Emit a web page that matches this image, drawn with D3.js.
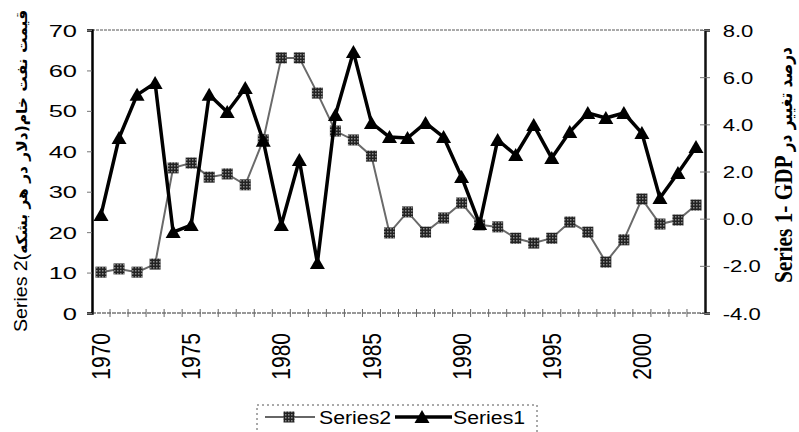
<!DOCTYPE html>
<html>
<head>
<meta charset="utf-8">
<script src="https://cdn.jsdelivr.net/npm/d3@7"></script>
<style>
  body { margin: 0; background: #fff; }
  svg { display: block; }
</style>
</head>
<body>
<svg width="799" height="432"></svg>
<script>
const years = [1970, 1971, 1972, 1973, 1974, 1975, 1976, 1977, 1978, 1979,
  1980, 1981, 1982, 1983, 1984, 1985, 1986, 1987, 1988, 1989,
  1990, 1991, 1992, 1993, 1994, 1995, 1996, 1997, 1998, 1999,
  2000, 2001, 2002, 2003];

// Series2: oil price (left axis)
const series2 = [10.1, 10.9, 10.1, 12.1, 35.9, 37.1, 33.6, 34.4, 31.7, 42.8,
  63.1, 63.1, 54.4, 45.0, 42.8, 38.8, 19.8, 25.0, 20.0, 23.5,
  27.2, 21.8, 21.3, 18.5, 17.3, 18.5, 22.5, 20.0, 12.6, 18.1,
  28.2, 22.0, 23.0, 26.7];

// Series1: GDP change in % (right axis)
const series1 = [0.16, 3.42, 5.25, 5.75, -0.57, -0.27, 5.25, 4.52, 5.54, 3.3,
  -0.27, 2.49, -1.88, 4.4, 7.07, 4.06, 3.46, 3.42, 4.06, 3.46,
  1.77, -0.23, 3.34, 2.7, 3.97, 2.57, 3.68, 4.48, 4.27, 4.48,
  3.63, 0.88, 1.94, 3.04];

const leftTicks = [0, 10, 20, 30, 40, 50, 60, 70];
const rightTicks = [-4, -2, 0, 2, 4, 6, 8];
const xLabels = [1970, 1975, 1980, 1985, 1990, 1995, 2000];

const leftTitleLatin = 'Series 2(';
const leftTitleFa = 'قیمت نفت خام(دلار در هر بشکه';
const rightTitleLatin = 'Series 1- GDP ';
const rightTitleFa = 'درصد تغییر در';

const svg = d3.select('svg');
const sans = '"Liberation Sans", Arial, sans-serif';

const plot = { left: 92, right: 705, top: 30, bottom: 313 };

const xScale = d3.scalePoint()
  .domain(years)
  .range([plot.left, plot.right])
  .padding(0.5);

const yLeft = d3.scaleLinear().domain([0, 70]).range([plot.bottom, plot.top]);
const yRight = d3.scaleLinear().domain([-4, 8]).range([plot.bottom, plot.top]);

// checkered fill for the grey squares
const defs = svg.append('defs');
const pat = defs.append('pattern')
  .attr('id', 'dots')
  .attr('width', 3).attr('height', 3)
  .attr('patternUnits', 'userSpaceOnUse');
pat.append('rect').attr('width', 3).attr('height', 3).attr('fill', '#222');
pat.append('rect').attr('width', 1.5).attr('height', 1.5).attr('fill', '#8a8a8a');

// top border of plot area
svg.append('line')
  .attr('x1', plot.left).attr('x2', plot.right)
  .attr('y1', plot.top).attr('y2', plot.top)
  .attr('stroke', '#555').attr('stroke-width', 1)
  .attr('stroke-dasharray', '3,1');

// left axis
const leftAxis = d3.axisLeft(yLeft).tickValues(leftTicks).tickSize(5).tickFormat(d => d);
const leftG = svg.append('g')
  .attr('transform', `translate(${plot.left},0)`)
  .call(leftAxis);
leftG.select('.domain').attr('stroke', '#000').attr('stroke-width', 2.5);
leftG.selectAll('.tick line').attr('stroke', '#777');
leftG.selectAll('.tick text')
  .attr('x', -10)
  .attr('dy', '0.36em')
  .attr('transform', 'scale(1.5,1)')
  .attr('font-family', sans)
  .attr('font-size', 17)
  .attr('fill', '#000');

// right axis
const rightAxis = d3.axisRight(yRight).tickValues(rightTicks).tickSize(5).tickFormat(d => d.toFixed(1));
const rightG = svg.append('g')
  .attr('transform', `translate(${plot.right},0)`)
  .call(rightAxis);
rightG.select('.domain').attr('stroke', '#111').attr('stroke-width', 2.5);
rightG.selectAll('.tick line').attr('x1', -5).attr('stroke', '#777');
rightG.selectAll('.tick text')
  .attr('x', 13.6)
  .attr('dy', '0.36em')
  .attr('transform', 'scale(1.3,1)')
  .attr('font-family', sans)
  .attr('font-size', 17)
  .attr('fill', '#000');

// bottom axis: ticks at category boundaries
const step = xScale.step();
const bounds = years.slice(1).map(y => xScale(y) - step / 2);
svg.append('line')
  .attr('x1', plot.left).attr('x2', plot.right)
  .attr('y1', plot.bottom).attr('y2', plot.bottom)
  .attr('stroke', '#333').attr('stroke-width', 1.2)
  .attr('stroke-dasharray', '4,1');
svg.append('g').selectAll('line').data(bounds)
  .enter().append('line')
    .attr('x1', d => d).attr('x2', d => d)
    .attr('y1', plot.bottom - 4).attr('y2', plot.bottom + 4)
    .attr('stroke', '#666').attr('stroke-width', 1);

svg.append('g').selectAll('text').data(xLabels)
  .enter().append('text')
    .attr('transform', d => `translate(${xScale(d)},${plot.bottom + 20}) scale(1.2,1) rotate(-90)`)
    .attr('dy', '0.36em')
    .attr('text-anchor', 'end')
    .attr('font-family', sans)
    .attr('font-size', 21)
    .text(d => d);

// Series2 line + squares
const line2 = d3.line().x((d, i) => xScale(years[i])).y(d => yLeft(d));
svg.append('path')
  .datum(series2)
  .attr('d', line2)
  .attr('fill', 'none')
  .attr('stroke', '#6a6a6a')
  .attr('stroke-width', 2);

svg.append('g').selectAll('rect').data(series2)
  .enter().append('rect')
    .attr('x', (d, i) => xScale(years[i]) - 5.5)
    .attr('y', d => yLeft(d) - 5.5)
    .attr('width', 11).attr('height', 11)
    .attr('fill', 'url(#dots)');

// Series1 line + triangles
const line1 = d3.line().x((d, i) => xScale(years[i])).y(d => yRight(d));
svg.append('path')
  .datum(series1)
  .attr('d', line1)
  .attr('fill', 'none')
  .attr('stroke', '#000')
  .attr('stroke-width', 3.5)
  .attr('stroke-linejoin', 'round');

const tri = 'M0,-7L7.5,6L-7.5,6Z';
svg.append('g').selectAll('path').data(series1)
  .enter().append('path')
    .attr('d', tri)
    .attr('transform', (d, i) => `translate(${xScale(years[i])},${yRight(d)})`)
    .attr('fill', '#000');

// axis titles
const lt = svg.append('text')
  .attr('transform', 'translate(20,171) rotate(-90)')
  .attr('text-anchor', 'middle')
  .attr('dy', '0.36em')
  .attr('textLength', 322)
  .attr('lengthAdjust', 'spacingAndGlyphs')
  .attr('font-size', 19);
lt.append('tspan').attr('font-family', sans).text(leftTitleLatin);
lt.append('tspan').attr('font-family', '"DejaVu Sans"').attr('font-weight', 'bold').attr('font-size', 15).text(leftTitleFa);

const rt = svg.append('text')
  .attr('transform', 'translate(783,165) scale(1.4,1) rotate(-90)')
  .attr('text-anchor', 'middle')
  .attr('dy', '0.36em')
  .attr('textLength', 236)
  .attr('lengthAdjust', 'spacingAndGlyphs')
  .attr('font-weight', 'bold')
  .attr('font-size', 18);
rt.append('tspan').attr('font-family', '"Liberation Serif", serif').text(rightTitleLatin);
rt.append('tspan').attr('font-family', '"DejaVu Sans"').attr('font-size', 13).text(rightTitleFa);

// legend
const legend = svg.append('g');
legend.append('rect')
  .attr('x', 257).attr('y', 405).attr('width', 280).attr('height', 40)
  .attr('fill', 'none')
  .attr('stroke', '#555')
  .attr('stroke-dasharray', '2,3');

const legendY = 417;
legend.append('line')
  .attr('x1', 265).attr('x2', 315).attr('y1', legendY).attr('y2', legendY)
  .attr('stroke', '#666').attr('stroke-width', 2);
legend.append('rect')
  .attr('x', 289 - 5.5).attr('y', legendY - 5.5)
  .attr('width', 11).attr('height', 11)
  .attr('fill', 'url(#dots)');
legend.append('text')
  .attr('transform', `translate(319,${legendY}) scale(1.12,1)`)
  .attr('dy', '0.36em')
  .attr('font-family', sans)
  .attr('font-size', 19)
  .text('Series2');

legend.append('line')
  .attr('x1', 395).attr('x2', 452).attr('y1', legendY).attr('y2', legendY)
  .attr('stroke', '#000').attr('stroke-width', 3.5);
legend.append('path')
  .attr('d', tri)
  .attr('transform', `translate(422,${legendY})`)
  .attr('fill', '#000');
legend.append('text')
  .attr('transform', `translate(453,${legendY}) scale(1.12,1)`)
  .attr('dy', '0.36em')
  .attr('font-family', sans)
  .attr('font-size', 19)
  .text('Series1');
</script>
</body>
</html>
